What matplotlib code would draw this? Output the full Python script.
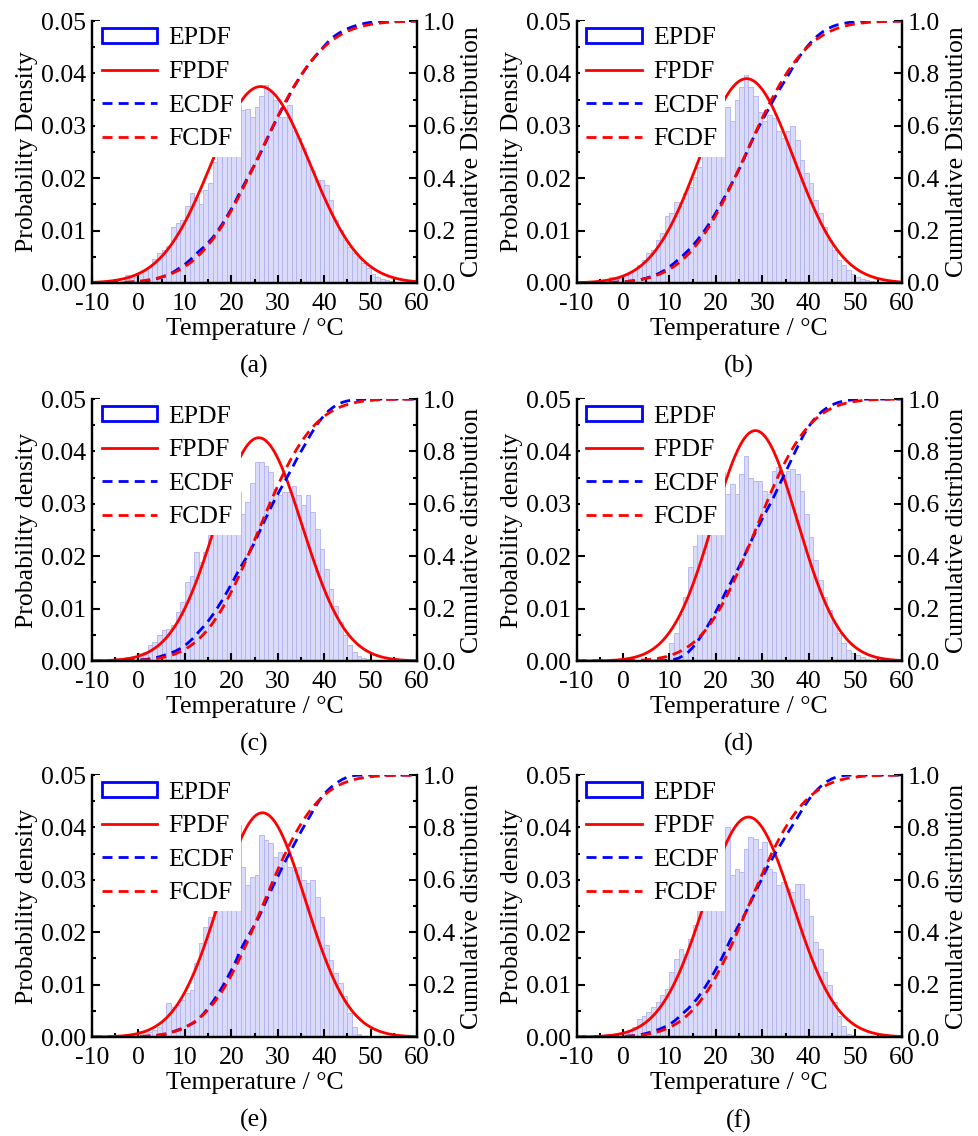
import math
import numpy as np
import matplotlib
matplotlib.use('Agg')
import matplotlib.pyplot as plt
from matplotlib.patches import Patch
from matplotlib.lines import Line2D
from matplotlib.ticker import MultipleLocator, FormatStrFormatter

plt.rcParams['font.family'] = ['Liberation Serif', 'DejaVu Serif']
plt.rcParams['axes.unicode_minus'] = False

# 1 degC bins from -10 to 60
bin_left = np.arange(-10, 60)

epdf_a = [0, 0, 0, 0, 0, 0.0002, 0.0003, 0.0015, 0.0010, 0.0012,
          0.0020, 0.0025, 0.0030, 0.0045, 0.0057, 0.0063, 0.0070, 0.0107, 0.0115, 0.0120,
          0.0146, 0.0171, 0.0165, 0.0150, 0.0177, 0.0190, 0.0230, 0.0260, 0.0280, 0.0300,
          0.0320, 0.0340, 0.0330, 0.0333, 0.0317, 0.0336, 0.0356, 0.0378, 0.0365, 0.0350,
          0.0317, 0.0317, 0.0340, 0.0290, 0.0276, 0.0257, 0.0235, 0.0216, 0.0197, 0.0197,
          0.0187, 0.0158, 0.0120, 0.0101, 0.0082, 0.0069, 0.0057, 0.0047, 0.0038, 0.0028,
          0.0018, 0.0012, 0.0008, 0.0005, 0.0003, 0.0002, 0.0001, 0, 0, 0]
epdf_b = [0, 0, 0, 0, 0.0002, 0.0005, 0.0006, 0.0012, 0.0008, 0.0010,
          0.0015, 0.0020, 0.0025, 0.0034, 0.0044, 0.0057, 0.0063, 0.0082, 0.0095, 0.0127,
          0.0133, 0.0155, 0.0146, 0.0171, 0.0184, 0.0203, 0.0222, 0.0250, 0.0270, 0.0290,
          0.0310, 0.0311, 0.0336, 0.0310, 0.0350, 0.0375, 0.0397, 0.0375, 0.0356, 0.0327,
          0.0310, 0.0320, 0.0314, 0.0290, 0.0276, 0.0290, 0.0300, 0.0273, 0.0235, 0.0210,
          0.0190, 0.0158, 0.0133, 0.0107, 0.0082, 0.0063, 0.0044, 0.0035, 0.0025, 0.0018,
          0.0012, 0.0008, 0.0005, 0.0003, 0, 0, 0, 0, 0, 0]
epdf_c = [0, 0, 0, 0, 0, 0.0005, 0.0006, 0.0008, 0.0008, 0.0010,
          0.0015, 0.0018, 0.0030, 0.0037, 0.0050, 0.0059, 0.0062, 0.0068, 0.0094, 0.0113,
          0.0151, 0.0163, 0.0208, 0.0189, 0.0208, 0.0240, 0.0260, 0.0280, 0.0300, 0.0310,
          0.0330, 0.0322, 0.0281, 0.0303, 0.0340, 0.0379, 0.0379, 0.0373, 0.0360, 0.0328,
          0.0316, 0.0322, 0.0322, 0.0335, 0.0316, 0.0297, 0.0316, 0.0284, 0.0252, 0.0214,
          0.0176, 0.0138, 0.0106, 0.0075, 0.0049, 0.0030, 0.0018, 0.0010, 0.0006, 0.0003,
          0.0002, 0, 0, 0, 0, 0, 0, 0, 0, 0]
epdf_d = [0, 0, 0, 0, 0, 0, 0, 0, 0, 0,
          0, 0, 0, 0, 0, 0.0002, 0.0003, 0.0004, 0.0005, 0.0010,
          0.0034, 0.0053, 0.0090, 0.0122, 0.0180, 0.0220, 0.0250, 0.0270, 0.0290, 0.0310,
          0.0325, 0.0360, 0.0319, 0.0338, 0.0319, 0.0357, 0.0392, 0.0350, 0.0344, 0.0344,
          0.0325, 0.0319, 0.0363, 0.0370, 0.0354, 0.0363, 0.0366, 0.0357, 0.0325, 0.0281,
          0.0236, 0.0192, 0.0154, 0.0122, 0.0097, 0.0072, 0.0053, 0.0034, 0.0021, 0.0015,
          0.0011, 0.0008, 0.0004, 0, 0, 0, 0, 0, 0, 0]
epdf_e = [0, 0, 0, 0, 0, 0, 0, 0, 0.0005, 0.0005,
          0.0011, 0.0009, 0.0010, 0.0014, 0.0020, 0.0033, 0.0065, 0.0058, 0.0062, 0.0071,
          0.0084, 0.0090, 0.0141, 0.0179, 0.0211, 0.0230, 0.0260, 0.0280, 0.0300, 0.0330,
          0.0350, 0.0405, 0.0325, 0.0290, 0.0306, 0.0310, 0.0386, 0.0376, 0.0370, 0.0344,
          0.0354, 0.0338, 0.0325, 0.0319, 0.0325, 0.0300, 0.0294, 0.0300, 0.0268, 0.0230,
          0.0176, 0.0147, 0.0122, 0.0103, 0.0078, 0.0046, 0.0020, 0.0005, 0.0002, 0,
          0, 0, 0, 0, 0, 0, 0, 0, 0, 0]
epdf_f = [0, 0, 0, 0, 0, 0, 0.0006, 0.0006, 0.0006, 0.0006,
          0.0010, 0.0013, 0.0019, 0.0035, 0.0041, 0.0048, 0.0057, 0.0067, 0.0080, 0.0092,
          0.0124, 0.0149, 0.0169, 0.0159, 0.0188, 0.0213, 0.0250, 0.0270, 0.0290, 0.0310,
          0.0330, 0.0360, 0.0400, 0.0309, 0.0321, 0.0315, 0.0359, 0.0382, 0.0378, 0.0359,
          0.0372, 0.0321, 0.0315, 0.0290, 0.0296, 0.0283, 0.0277, 0.0293, 0.0293, 0.0264,
          0.0232, 0.0181, 0.0169, 0.0124, 0.0099, 0.0067, 0.0041, 0.0022, 0.0006, 0.0003,
          0, 0, 0, 0, 0, 0, 0, 0, 0, 0]

# fitted normal distribution parameters (mean, std) per panel
fit_mu = [26.3, 26.6, 25.9, 28.5, 26.7, 27.0]
fit_sigma = [10.64, 10.23, 9.36, 9.07, 9.32, 9.50]

panel_tags = ['(a)', '(b)', '(c)', '(d)', '(e)', '(f)']
pdf_labels = ['Probability Density', 'Probability Density', 'Probability density',
              'Probability density', 'Probability density', 'Probability density']
cdf_labels = ['Cumulative Distribution', 'Cumulative Distribution', 'Cumulative distribution',
              'Cumulative distribution', 'Cumulative distribution', 'Cumulative distribution']
legend_labels = ['EPDF', 'FPDF', 'ECDF', 'FCDF']

all_epdf = [epdf_a, epdf_b, epdf_c, epdf_d, epdf_e, epdf_f]

fig = plt.figure(figsize=(9.79, 11.36), dpi=100)
lefts = [0.094, 0.589]
bottoms = [0.7509, 0.4181, 0.0871]
w, h = 0.332, 0.2306
fs = 18.5
dash = (0, (3.6, 2.2))

xs = np.linspace(-10, 60, 500)
erf = np.vectorize(math.erf)

for i in range(6):
    ax = fig.add_axes([lefts[i % 2], bottoms[i // 2], w, h])
    hist = np.array(all_epdf[i])
    ax.bar(bin_left, hist, width=1.0, align='edge', color='#dadaf9',
           edgecolor='#b2b2f0', linewidth=0.6, zorder=1)
    mu, sd = fit_mu[i], fit_sigma[i]
    pdf = np.exp(-0.5 * ((xs - mu) / sd) ** 2) / (sd * math.sqrt(2 * math.pi))
    ax.plot(xs, pdf, color='red', lw=2, zorder=3)
    ax.set_xlim(-10, 60)
    ax.set_ylim(0, 0.05)

    ax2 = ax.twinx()
    ecdf = np.concatenate([[0], np.cumsum(hist) / hist.sum()])
    ax2.plot(np.append(bin_left, 60), ecdf, color='blue', lw=2, ls=dash)
    fcdf = 0.5 * (1 + erf((xs - mu) / (sd * math.sqrt(2))))
    ax2.plot(xs, fcdf, color='red', lw=2, ls=dash)
    ax2.set_ylim(0, 1)

    for a in (ax, ax2):
        a.spines['top'].set_visible(False)
        for s in ('left', 'right', 'bottom'):
            a.spines[s].set_linewidth(1.6)
        a.tick_params(which='both', direction='in', width=1.5, labelsize=fs, pad=4)
        a.tick_params(which='major', length=6)
        a.tick_params(which='minor', length=3)
    ax.tick_params(axis='x', pad=7)

    ax.xaxis.set_major_locator(MultipleLocator(10))
    ax.xaxis.set_minor_locator(MultipleLocator(5))
    ax.yaxis.set_major_locator(MultipleLocator(0.01))
    ax.yaxis.set_minor_locator(MultipleLocator(0.005))
    ax.yaxis.set_major_formatter(FormatStrFormatter('%.2f'))
    ax2.yaxis.set_major_locator(MultipleLocator(0.2))
    ax2.yaxis.set_minor_locator(MultipleLocator(0.1))
    ax2.yaxis.set_major_formatter(FormatStrFormatter('%.1f'))

    ax.set_xlabel('Temperature / °C', fontsize=fs)
    ax.xaxis.set_label_coords(0.5, -0.135)
    ax.set_ylabel(pdf_labels[i], fontsize=fs)
    ax.yaxis.set_label_coords(-0.165, 0.5)
    ax2.set_ylabel(cdf_labels[i], fontsize=fs)
    ax2.yaxis.set_label_coords(1.135, 0.5)

    ax.text(0.5, -0.32, panel_tags[i], transform=ax.transAxes,
            ha='center', va='center', fontsize=fs)

    handles = [Patch(facecolor='white', edgecolor='blue', lw=2),
               Line2D([], [], color='red', lw=2),
               Line2D([], [], color='blue', lw=2, ls=dash),
               Line2D([], [], color='red', lw=2, ls=dash)]
    ax2.legend(handles, legend_labels, loc='upper left', bbox_to_anchor=(0.01, 1),
               borderaxespad=0, frameon=True, fancybox=False, facecolor='white',
               edgecolor='none', framealpha=1, fontsize=fs, handlelength=2.15,
               handleheight=0.5, handletextpad=0.45, labelspacing=0.45, borderpad=0.25)

fig.savefig('out.png', dpi=100)
